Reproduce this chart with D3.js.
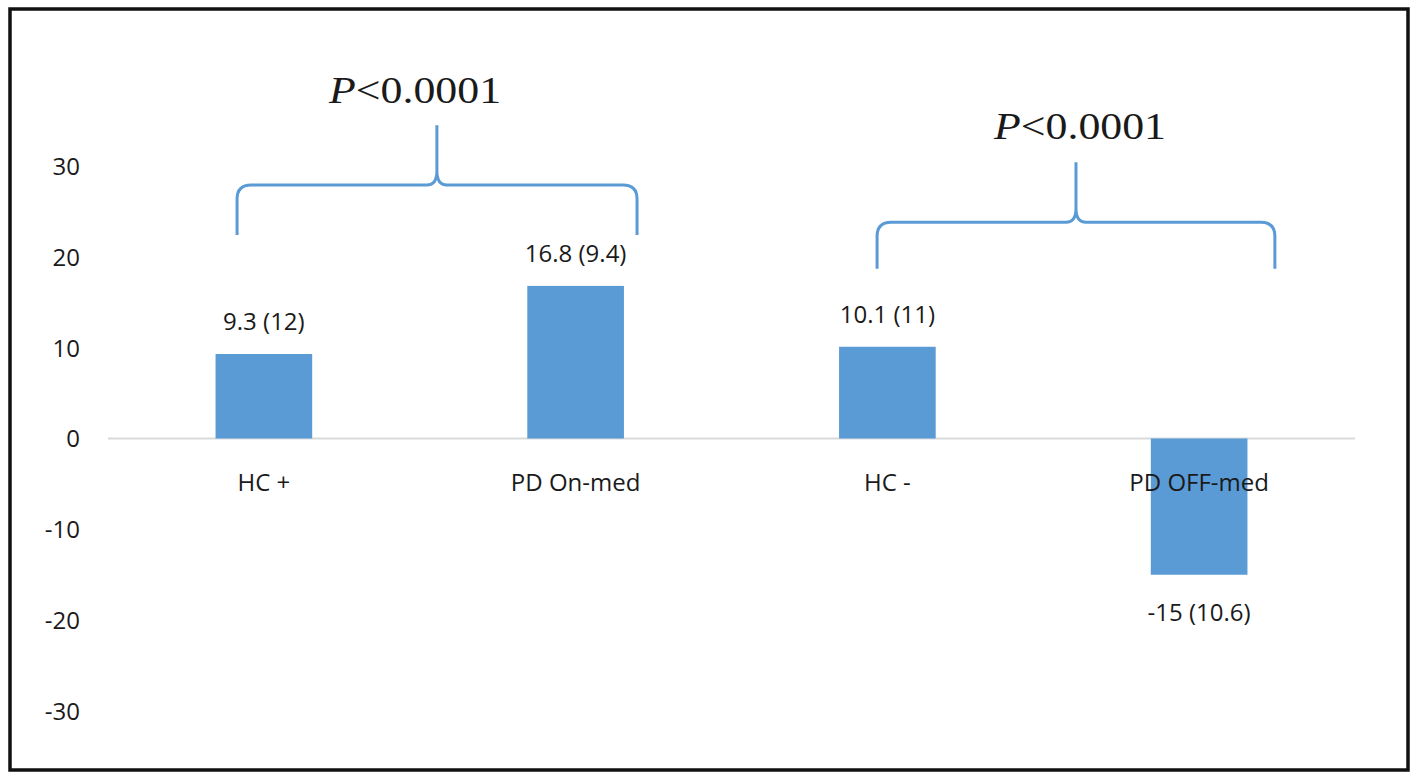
<!DOCTYPE html>
<html>
<head>
<meta charset="utf-8">
<script src="https://cdn.jsdelivr.net/npm/d3@7"></script>
<style>
  body { margin: 0; background: #fff; }
  svg text { font-family: "Open Sans", "Noto Sans", sans-serif; fill: #1a1a1a; }
</style>
</head>
<body>
<div id="grafica"></div>
<script>
// Datos del gráfico
const categories = ["HC +", "PD On-med", "HC -", "PD OFF-med"]
const means = [9.3, 16.8, 10.1, -15]
const sds = [12, 9.4, 11, 10.6]
const yTicks = [30, 20, 10, 0, -10, -20, -30]

// Llaves de comparación (x en unidades de categoría, y en unidades de datos)
const braceStart = [0.414, 2.467]
const braceEnd = [1.697, 3.743]
const braceMid = [1.055, 3.105]
const braceArm = [22.4, 18.7]
const braceLevel = [27.9, 23.8]
const braceTip = [34.5, 30.4]
const pLabels = ["<0.0001", "<0.0001"]
const pLabelX = [0.985, 3.118]
const pLabelY = [36.9, 33.0]

const width = 1418
const height = 782
const plotLeft = 108
const plotRight = 1355
const fontSize = 24

const svg = d3.select("#grafica")
  .append("svg")
  .attr("width", width)
  .attr("height", height)

// Marco negro
svg.append("rect")
  .attr("x", 10)
  .attr("y", 9)
  .attr("width", 1398)
  .attr("height", 761)
  .attr("fill", "none")
  .attr("stroke", "#111")
  .attr("stroke-width", 3.5)

const xScale = d3.scaleBand()
  .domain(categories)
  .range([plotLeft, plotRight])
  .paddingInner(0.69)
  .paddingOuter(0.345)

// escala continua para las anotaciones
const xPos = d3.scaleLinear()
  .domain([0, categories.length])
  .range([plotLeft, plotRight])

const yScale = d3.scaleLinear()
  .domain([-30, 30])
  .range([711, 166])

// Eje y (solo etiquetas)
const yAxis = d3.axisLeft(yScale)
  .tickValues(yTicks)
  .tickFormat(d => String(d))
  .tickSize(0)
  .tickPadding(0)

svg.append("g")
  .attr("transform", "translate(80,0)")
  .call(yAxis)
  .call(g => g.select(".domain").remove())
  .call(g => g.selectAll("text")
    .attr("font-size", fontSize)
    .attr("font-family", "Open Sans")
    .attr("fill", "#1a1a1a")
    .attr("dy", "0.35em"))

// Línea de cero
svg.append("line")
  .attr("x1", plotLeft)
  .attr("x2", plotRight)
  .attr("y1", yScale(0))
  .attr("y2", yScale(0))
  .attr("stroke", "#d9d9d9")
  .attr("stroke-width", 2)

// Barras
svg.selectAll("rect.bar")
  .data(means)
  .enter()
  .append("rect")
  .attr("class", "bar")
  .attr("x", (d, i) => xScale(categories[i]))
  .attr("width", xScale.bandwidth())
  .attr("y", d => yScale(Math.max(0, d)))
  .attr("height", d => Math.abs(yScale(d) - yScale(0)))
  .attr("fill", "#5b9bd5")

// Etiquetas de categoría (sobre el eje)
const xAxis = d3.axisBottom(xScale).tickSize(0).tickPadding(0)
svg.append("g")
  .attr("transform", "translate(0," + yScale(0) + ")")
  .call(xAxis)
  .call(g => g.select(".domain").remove())
  .call(g => g.selectAll("text")
    .attr("font-size", fontSize)
    .attr("font-family", "Open Sans")
    .attr("fill", "#1a1a1a")
    .attr("dy", 0)
    .attr("y", 52))

// Etiquetas de valores
svg.selectAll("text.val")
  .data(means)
  .enter()
  .append("text")
  .attr("class", "val")
  .attr("text-anchor", "middle")
  .attr("font-size", fontSize)
  .attr("x", (d, i) => xScale(categories[i]) + xScale.bandwidth() / 2)
  .attr("y", d => d >= 0 ? yScale(d) - 24 : yScale(d) + 46)
  .text((d, i) => d + " (" + sds[i] + ")")

// Llaves
const r = 14
svg.selectAll("path.brace")
  .data(braceStart)
  .enter()
  .append("path")
  .attr("class", "brace")
  .attr("fill", "none")
  .attr("stroke", "#5b9bd5")
  .attr("stroke-width", 3)
  .attr("d", (d, i) => {
    const xl = xPos(braceStart[i]), xr = xPos(braceEnd[i]), xc = xPos(braceMid[i])
    const ya = yScale(braceArm[i]), yh = yScale(braceLevel[i]), yt = yScale(braceTip[i])
    const p = d3.path()
    p.moveTo(xl, ya)
    p.lineTo(xl, yh + r)
    p.quadraticCurveTo(xl, yh, xl + r, yh)
    p.lineTo(xc - 10, yh)
    p.quadraticCurveTo(xc, yh, xc, yh - 14)
    p.lineTo(xc, yt)
    p.moveTo(xr, ya)
    p.lineTo(xr, yh + r)
    p.quadraticCurveTo(xr, yh, xr - r, yh)
    p.lineTo(xc + 10, yh)
    p.quadraticCurveTo(xc, yh, xc, yh - 14)
    return p.toString()
  })

// Valores P
const pText = svg.selectAll("text.pval")
  .data(pLabels)
  .enter()
  .append("text")
  .attr("class", "pval")
  .attr("text-anchor", "middle")
  .attr("x", (d, i) => xPos(pLabelX[i]))
  .attr("y", (d, i) => yScale(pLabelY[i]))
  .attr("font-size", 37)
  .attr("textLength", 172)
  .attr("lengthAdjust", "spacingAndGlyphs")
  .style("font-family", "'Liberation Serif', 'DejaVu Serif', serif")

pText.append("tspan")
  .attr("font-style", "italic")
  .text("P")
pText.append("tspan")
  .text(d => d)
</script>
</body>
</html>
